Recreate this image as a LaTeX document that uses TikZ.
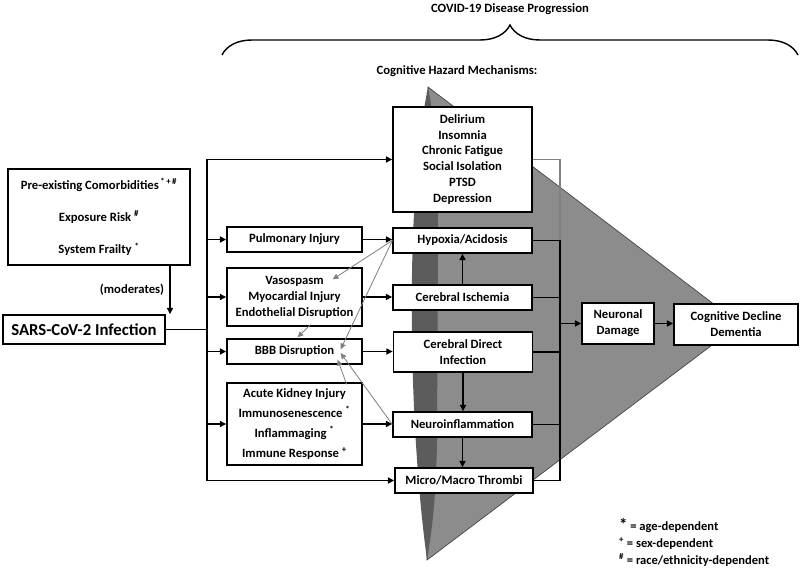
\documentclass[tikz,border=0pt]{standalone}
\usepackage{fontspec}
\setmainfont{Carlito}
\usepackage{tikz}
\usetikzlibrary{arrows.meta, positioning, calc, decorations.pathreplacing}

\definecolor{hazlight}{RGB}{140,140,140}
\definecolor{hazdark}{RGB}{92,92,92}
\definecolor{hazedge}{RGB}{70,70,70}
\newcommand{\px}{0.03cm}

\tikzset{
  box/.style={draw, line width=1.1pt, fill=white, align=center, inner sep=1pt,
    font=\bfseries\fontsize{10.8}{13.6}\selectfont},
  lbl/.style={align=center, font=\bfseries\fontsize{10.8}{13.6}\selectfont},
  arr/.style={line width=1.4pt, -{Triangle[length=5.5pt,width=5pt]}},
  link/.style={line width=1.4pt},
  feed/.style={gray, line width=0.7pt, -{Triangle[length=5pt,width=4.5pt]}},
}

\begin{document}
\begin{tikzpicture}[x=\px, y=-\px]
\useasboundingbox (0,0) rectangle (803,569);

% Hazard cone
\filldraw[fill=hazlight, draw=hazedge, line width=0.6pt] (428,87) -- (740,324) -- (427,560) -- cycle;
\fill[hazdark] (427,560) .. controls (408,420) and (405,200) .. (428,87)
  .. controls (435,120) and (438,180) .. (438,230) -- (437,440)
  .. controls (436,500) and (432,530) .. (427,560) -- cycle;

% Titles
\node[lbl] (covid) at (510,9) {COVID-19 Disease Progression};
\draw[line width=1.2pt, decorate, decoration={brace, amplitude=0.9cm}] (222,55) -- (798,55);
\node[lbl] (hazard) at (457,71) {Cognitive Hazard Mechanisms:};

% Left column
\node[box, minimum width=182*\px, minimum height=96*\px] (risk) at (99,217)
  {Pre-existing Comorbidities\textsuperscript{\,*\,+\,\#}\\[14pt]
   Exposure Risk \textsuperscript{\#}\\[14pt]
   System Frailty \textsuperscript{*}};
\node[box, minimum width=162*\px, minimum height=29*\px,
  font=\bfseries\fontsize{14.3}{17}\selectfont] (sars) at (84,329.5) {SARS-CoV-2 Infection};

% Middle column
\node[box, minimum width=135*\px, minimum height=25*\px] (pulm) at (294.5,239.5) {Pulmonary Injury};
\node[box, minimum width=135*\px, minimum height=58*\px] (vaso) at (294.5,297)
  {Vasospasm\\ Myocardial Injury\\ Endothelial Disruption};
\node[box, minimum width=135*\px, minimum height=25*\px] (bbb) at (294.5,351.5) {BBB Disruption};
\node[box, minimum width=135*\px, minimum height=82*\px, font=\bfseries\fontsize{10.8}{17}\selectfont] (aki) at (294.5,424)
  {Acute Kidney Injury\\ Immunosenescence \textsuperscript{*}\\ Inflammaging \textsuperscript{*}\\ Immune Response \textsuperscript{+}};

% Right column
\node[box, minimum width=139*\px, minimum height=105*\px] (deli) at (462.5,159.5)
  {Delirium\\ Insomnia\\ Chronic Fatigue\\ Social Isolation\\ PTSD\\ Depression};
\node[box, minimum width=139*\px, minimum height=25*\px] (hypo) at (462.5,240.5) {Hypoxia/Acidosis};
\node[box, minimum width=139*\px, minimum height=25*\px] (isch) at (462.5,297.5) {Cerebral Ischemia};
\node[box, minimum width=139*\px, minimum height=40*\px] (cdi) at (463,352) {Cerebral Direct\\ Infection};
\node[box, minimum width=139*\px, minimum height=25*\px] (neuro) at (462.5,424.5) {Neuroinflammation};
\node[box, minimum width=138*\px, minimum height=25*\px] (micro) at (464,480.5) {Micro/Macro Thrombi};

% Outcome
\node[box, minimum width=72*\px, minimum height=41*\px] (neur) at (618,323.5) {Neuronal\\ Damage};
\node[box, minimum width=124*\px, minimum height=41*\px] (cogn) at (736,324.5) {Cognitive Decline\\ Dementia};

% Legend
\node[lbl, align=left, anchor=west, font=\bfseries\fontsize{10.7}{14.5}\selectfont] (legend) at (615,542)
  {{\Large*} = age-dependent\\ \textsuperscript{+} = sex-dependent\\ \textsuperscript{\#} = race/ethnicity-dependent};

% Moderation
\coordinate (mod) at (170,265);
\draw[arr] (mod) -- node[lbl, left=1pt] (modlbl) {(moderates)} (mod |- sars.north);

% Trunk to mechanisms
\coordinate (t1) at (207,157);
\draw[link] (sars.east) -- (sars.east -| t1);
\draw[link] (t1 |- deli.west) -- (t1 |- micro.west);
\foreach \n in {deli,pulm,vaso,bbb,aki,micro}
  \draw[arr] (t1 |- \n.west) -- (\n.west);

\draw[arr] (pulm.east) -- (pulm.east -| hypo.west);
\draw[arr] (vaso.east) -- (vaso.east -| isch.west);
\draw[arr] (bbb.east) -- (bbb.east -| cdi.west);
\draw[arr] (aki.east) -- (aki.east -| neuro.west);

% Feedback between mechanisms
\draw[feed] (hypo.west) -- ([shift={(-30,12)}]vaso.north east);
\draw[feed] (hypo.west) -- ([shift={(-22,11)}]bbb.north east);
\draw[feed] ([shift={(16,-2)}]vaso.south) -- ([shift={(3,-1)}]bbb.north);
\draw[feed] ([shift={(-16,2)}]aki.north east) -- ([shift={(-25,-5)}]bbb.south east);
\draw[feed] (neuro.west) -- ([shift={(-22,1.5)}]bbb.east);

\draw[arr] (isch.north) -- (hypo.south);
\draw[arr] (cdi.south) -- (cdi.south |- neuro.north);
\draw[arr] (neuro.south) -- (neuro.south |- micro.north);

% Collector
\coordinate (c1) at (560,159.5);
\draw[link, gray] (deli.east) -- (deli.east -| c1) -- (hypo.east -| c1);
\draw[link] (hypo.east -| c1) -- (micro.east -| c1);
\foreach \n in {hypo,isch,cdi,neuro,micro}
  \draw[link] (\n.east) -- (\n.east -| c1);
\draw[arr] (c1 |- neur.west) -- (neur.west);
\draw[arr] (neur.east) -- (neur.east -| cogn.west);
\end{tikzpicture}
\end{document}
